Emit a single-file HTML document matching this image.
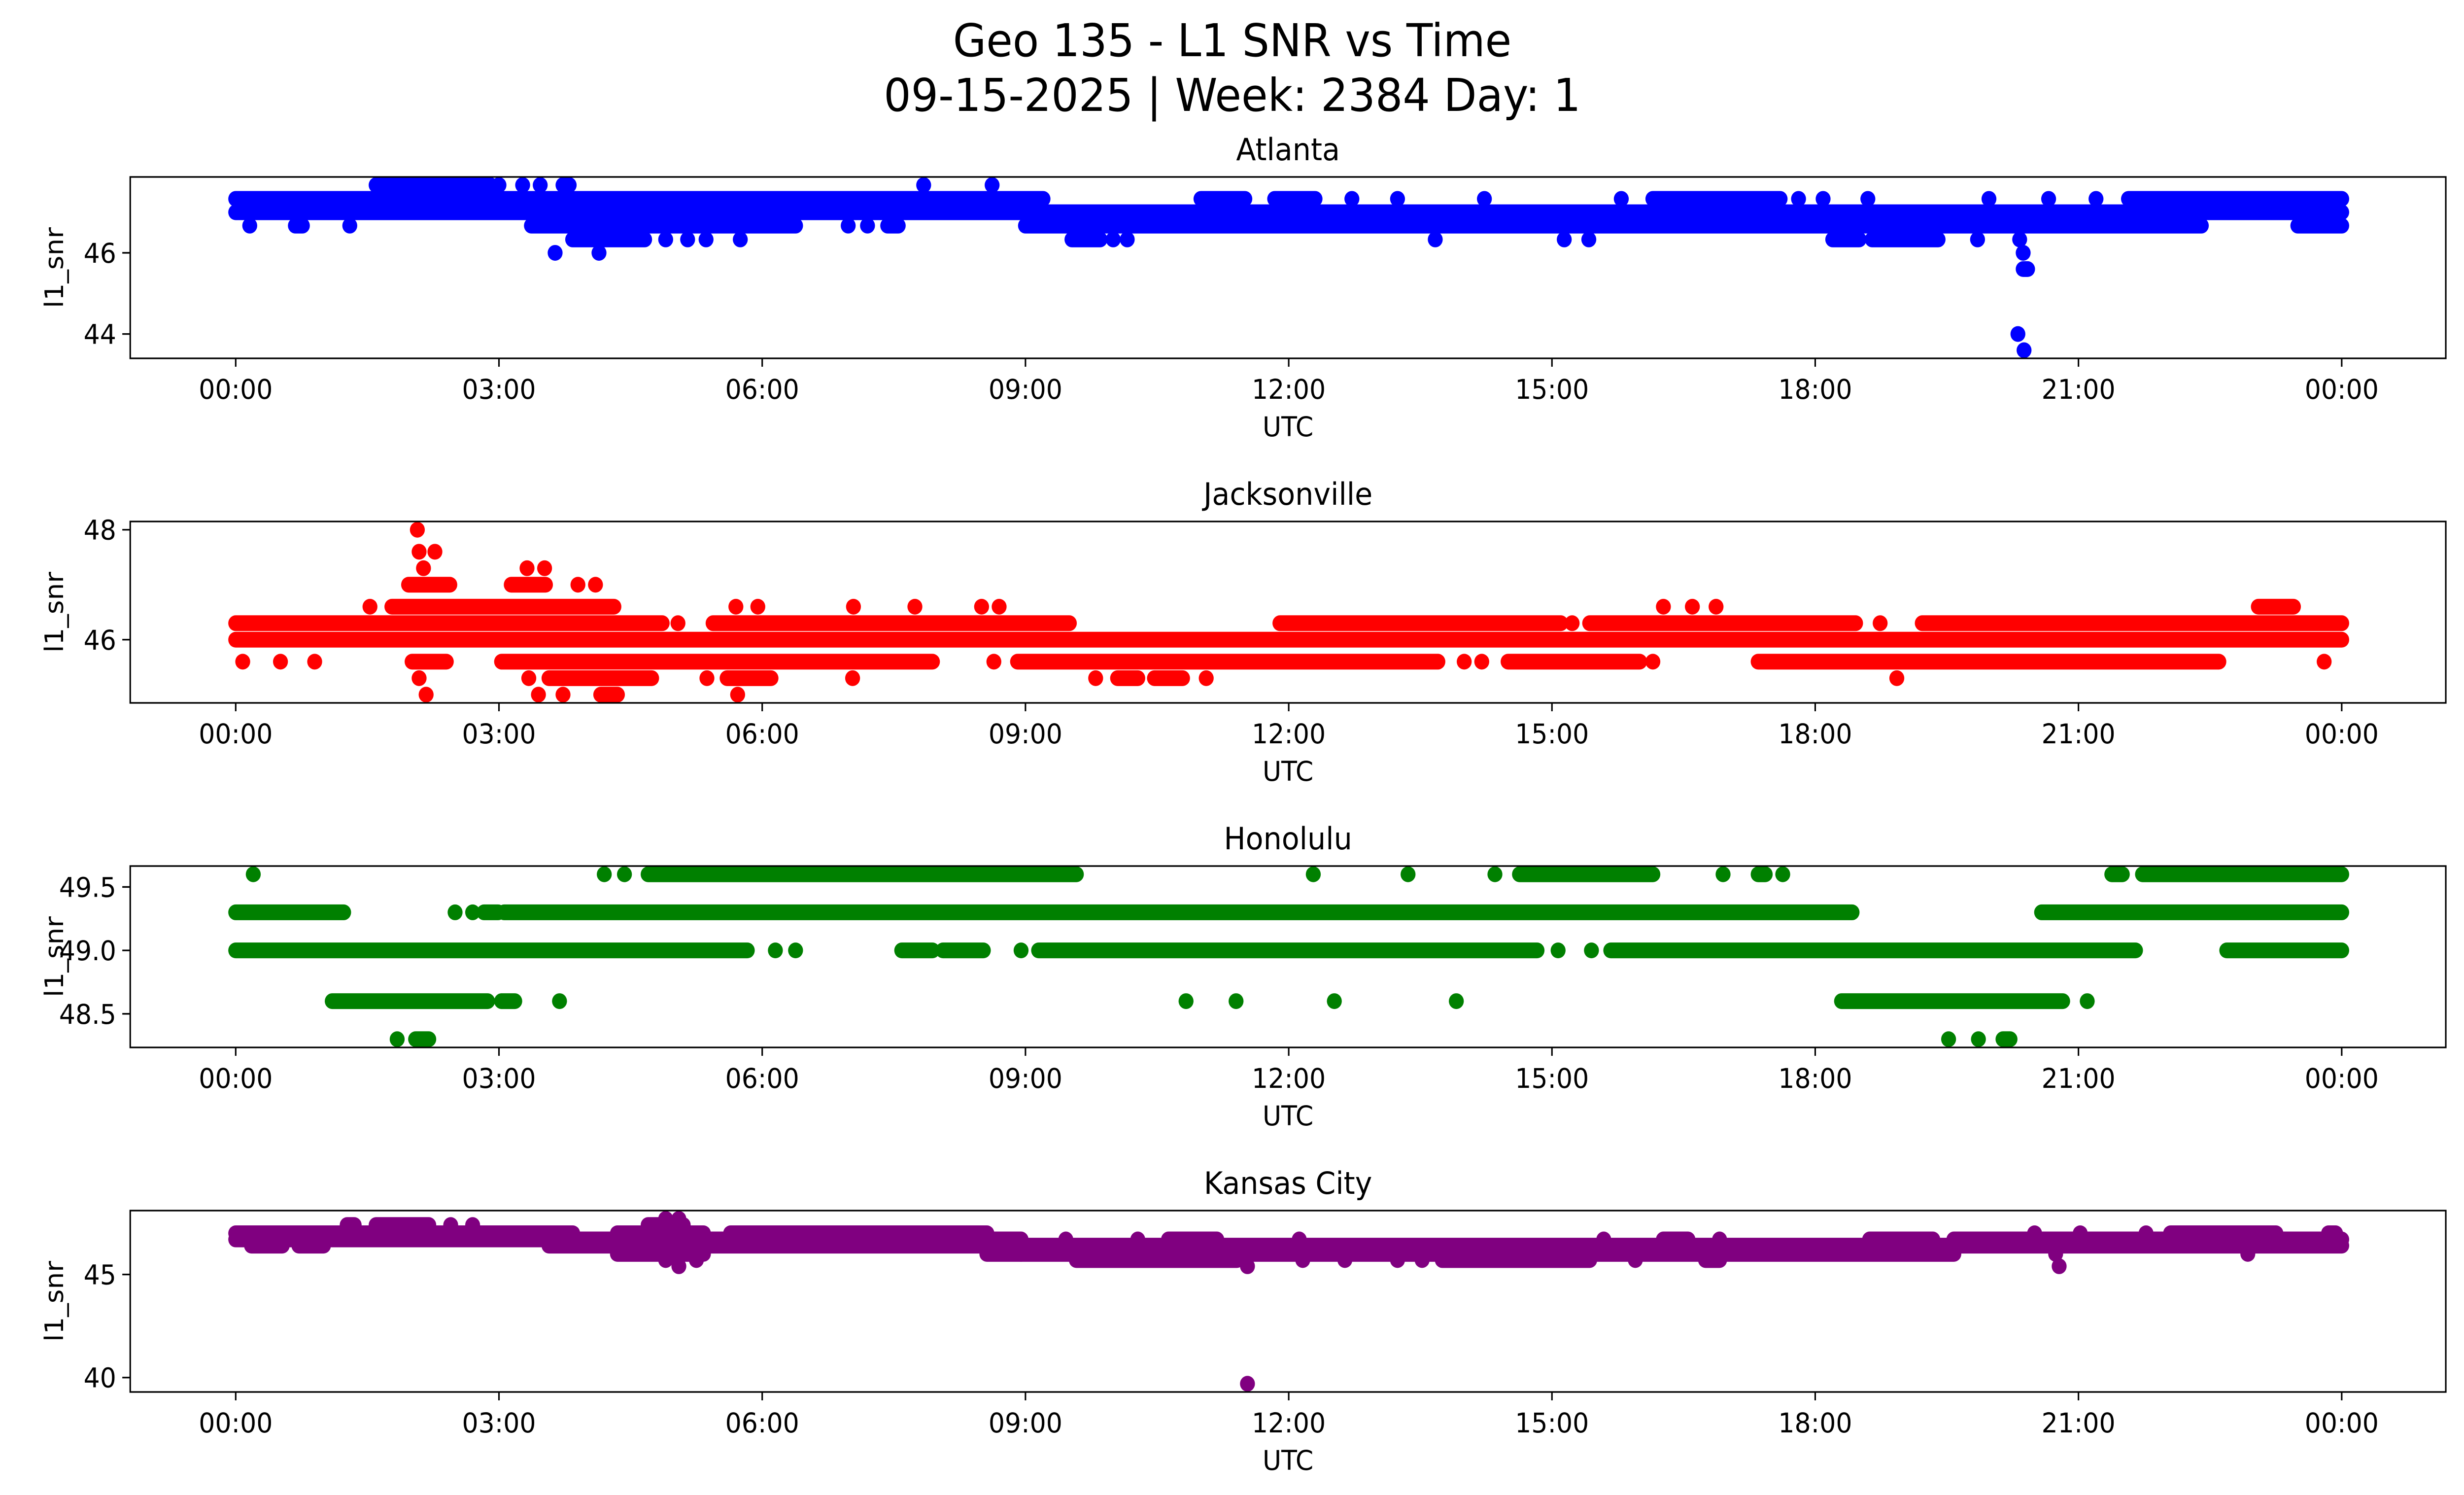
<!DOCTYPE html>
<html><head><meta charset="utf-8"><title>Geo 135 - L1 SNR vs Time</title>
<style>
html,body{margin:0;padding:0;background:#fff;overflow:hidden;width:100%;height:100%;}
svg{display:block;width:100vw;height:100vh;font-family:"DejaVu Sans","Liberation Sans",sans-serif;}
</style></head>
<body>
<svg id="fig" xmlns="http://www.w3.org/2000/svg" viewBox="0 0 5279 3033" preserveAspectRatio="none">
<rect width="5279" height="3033" fill="#fff"/>
<text x="2640" y="114" font-size="92" text-anchor="middle" fill="#000">Geo 135 - L1 SNR vs Time</text>
<text x="2640" y="225" font-size="92" text-anchor="middle" fill="#000">09-15-2025 | Week: 2384 Day: 1</text>
</svg>
<script>
// x tick data (hours) and labels
const xTickHours = [0,3,6,9,12,15,18,21,24];
const xTickLabels = ["00:00","03:00","06:00","09:00","12:00","15:00","18:00","21:00","00:00"];

// Atlanta runs: [startHour, endHour, snr]
const atlantaRuns = [
 [0,9.2,47.33],[11.84,12.3,47.33],[12.72,12.72,47.33],[13.24,13.24,47.33],[14.23,14.23,47.33],[15.79,15.79,47.33],
 [16.15,17.6,47.33],[17.81,17.81,47.33],[18.09,18.09,47.33],[18.6,18.6,47.33],[19.98,19.98,47.33],[20.66,20.66,47.33],
 [21.2,21.2,47.33],[21.57,24,47.33],[11.0,11.5,47.33],
 [0,24,47.0],
 [1.6,2.9,47.67],[3.0,3.0,47.67],[3.27,3.27,47.67],[3.47,3.47,47.67],[3.73,3.8,47.67],[7.84,7.84,47.67],[8.62,8.62,47.67],
 [0.16,0.16,46.67],[0.68,0.76,46.67],[1.3,1.3,46.67],[3.37,6.38,46.67],[6.98,6.98,46.67],[7.2,7.2,46.67],[7.43,7.55,46.67],
 [9.0,22.4,46.67],[23.5,24,46.67],
 [3.84,4.66,46.33],[4.9,4.9,46.33],[5.15,5.15,46.33],[5.36,5.36,46.33],[5.75,5.75,46.33],[9.53,9.85,46.33],[10.0,10.0,46.33],
 [10.16,10.16,46.33],[13.67,13.67,46.33],[15.14,15.14,46.33],[15.42,15.42,46.33],[18.2,18.5,46.33],[18.65,19.4,46.33],
 [19.85,19.85,46.33],[20.33,20.33,46.33],
 [3.64,3.64,46.0],[4.14,4.14,46.0],[20.37,20.37,46.0],
 [20.37,20.42,45.6],[20.31,20.31,44.0],[20.38,20.38,43.6]
];
const atlantaTicks = [44,46];

// Jacksonville runs
const jacksonvilleRuns = [
 [2.07,2.07,48.0],
 [2.09,2.09,47.6],[2.27,2.27,47.6],
 [2.14,2.14,47.3],[3.32,3.32,47.3],[3.52,3.52,47.3],
 [1.97,2.44,47.0],[3.14,3.53,47.0],[3.9,3.9,47.0],[4.1,4.1,47.0],
 [1.53,1.53,46.6],[1.78,4.31,46.6],[5.7,5.7,46.6],[5.95,5.95,46.6],[7.04,7.04,46.6],[7.74,7.74,46.6],[8.5,8.5,46.6],[8.7,8.7,46.6],
 [16.27,16.27,46.6],[16.6,16.6,46.6],[16.87,16.87,46.6],[23.05,23.45,46.6],
 [0,4.86,46.3],[5.04,5.04,46.3],[5.44,9.5,46.3],[11.9,15.1,46.3],[15.23,15.23,46.3],[15.43,18.46,46.3],[18.74,18.74,46.3],[19.22,24,46.3],
 [0,24,46.0],
 [0.08,0.08,45.6],[0.51,0.51,45.6],[0.9,0.9,45.6],[2.01,2.4,45.6],[3.03,7.94,45.6],[8.64,8.64,45.6],[8.91,13.7,45.6],
 [14.0,14.0,45.6],[14.2,14.2,45.6],[14.5,16.0,45.6],[16.15,16.15,45.6],[17.35,22.6,45.6],[23.8,23.8,45.6],
 [2.09,2.09,45.3],[3.34,3.34,45.3],[3.57,4.74,45.3],[5.37,5.37,45.3],[5.6,6.1,45.3],[7.03,7.03,45.3],[9.8,9.8,45.3],
 [10.05,10.28,45.3],[10.47,10.79,45.3],[11.06,11.06,45.3],[18.93,18.93,45.3],
 [2.17,2.17,45.0],[3.45,3.45,45.0],[3.73,3.73,45.0],[4.16,4.35,45.0],[5.72,5.72,45.0]
];
const jacksonvilleTicks = [46,48];

// Honolulu runs
const honoluluRuns = [
 [0.2,0.2,49.6],[4.2,4.2,49.6],[4.43,4.43,49.6],[4.7,9.58,49.6],[12.28,12.28,49.6],[13.36,13.36,49.6],[14.35,14.35,49.6],
 [14.63,16.15,49.6],[16.95,16.95,49.6],[17.35,17.43,49.6],[17.63,17.63,49.6],[21.38,21.5,49.6],[21.73,24,49.6],
 [0,1.23,49.3],[2.5,2.5,49.3],[2.7,2.7,49.3],[2.83,2.99,49.3],[3.06,18.42,49.3],[20.58,24,49.3],
 [0,5.83,49.0],[6.15,6.15,49.0],[6.38,6.38,49.0],[7.59,7.94,49.0],[8.06,8.52,49.0],[8.95,8.95,49.0],[9.15,14.83,49.0],
 [15.07,15.07,49.0],[15.45,15.45,49.0],[15.67,21.65,49.0],[22.69,24,49.0],
 [1.1,2.87,48.6],[3.03,3.18,48.6],[3.69,3.69,48.6],[10.83,10.83,48.6],[11.4,11.4,48.6],[12.52,12.52,48.6],[13.91,13.91,48.6],
 [18.3,20.82,48.6],[21.1,21.1,48.6],
 [1.84,1.84,48.3],[2.05,2.2,48.3],[19.52,19.52,48.3],[19.86,19.86,48.3],[20.14,20.22,48.3]
];
const honoluluTicks = [48.5,49.0,49.5];
const honoluluTickLabels = ["48.5","49.0","49.5"];

// Kansas City runs
const kansasRuns = [
 [0,3.84,47.0],[0,3.84,46.7],[0.18,0.53,46.4],[0.72,1.0,46.4],
 [1.27,1.35,47.4],[1.6,2.2,47.4],[2.45,2.45,47.4],[2.7,2.7,47.4],
 [3.57,4.35,46.7],[3.57,4.35,46.4],
 [4.35,5.33,47.0],[4.35,5.33,46.7],[4.35,5.33,46.4],[4.35,5.33,46.0],
 [4.7,5.1,47.4],[4.9,4.9,47.7],[5.05,5.05,47.7],[4.9,4.9,45.7],[5.25,5.25,45.7],[5.05,5.05,45.4],
 [5.33,8.56,46.7],[5.33,8.56,46.4],[5.64,8.56,47.0],
 [8.56,8.95,46.7],[8.56,8.95,46.4],[8.56,8.95,46.0],
 [8.95,19.58,46.4],[8.95,19.58,46.0],
 [9.58,11.41,45.7],[12.16,12.16,45.7],[12.64,12.64,45.7],[13.24,13.24,45.7],[13.52,13.52,45.7],[13.75,15.43,45.7],
 [15.95,15.95,45.7],[16.75,16.91,45.7],
 [9.46,9.46,46.7],[10.28,10.28,46.7],[10.63,11.18,46.7],[12.12,12.12,46.7],[15.59,15.59,46.7],[16.27,16.55,46.7],
 [16.91,16.91,46.7],[18.62,19.34,46.7],
 [11.53,11.53,45.4],[11.53,11.53,39.7],
 [19.58,24,46.7],[19.58,24,46.4],
 [20.5,20.5,47.0],[21.02,21.02,47.0],[21.77,21.77,47.0],[22.05,23.25,47.0],[23.85,23.93,47.0],
 [20.74,20.74,46.0],[22.93,22.93,46.0],[20.78,20.78,45.4]
];
const kansasTicks = [40,45];

const panels = [
 {key:"atlanta", title:"Atlanta", top:359, ymin:43.4, ymax:47.87, ticks:atlantaTicks, labels:atlantaTicks.map(String), color:"#0000ff", runs:atlantaRuns},
 {key:"jacksonville", title:"Jacksonville", top:1058, ymin:44.85, ymax:48.15, ticks:jacksonvilleTicks, labels:jacksonvilleTicks.map(String), color:"#ff0000", runs:jacksonvilleRuns},
 {key:"honolulu", title:"Honolulu", top:1757, ymin:48.235, ymax:49.665, ticks:honoluluTicks, labels:honoluluTickLabels, color:"#008000", runs:honoluluRuns},
 {key:"kansas-city", title:"Kansas City", top:2456, ymin:39.3, ymax:48.1, ticks:kansasTicks, labels:kansasTicks.map(String), color:"#800080", runs:kansasRuns}
];

const NS="http://www.w3.org/2000/svg";
const svg=document.getElementById("fig");
const AX_L=279, AX_R=5240, AX_H=368, X0=505, PXH=188, R=16;
function xs(h){return X0+h*PXH;}
function mk(tag,attrs,parent){const e=document.createElementNS(NS,tag);for(const k in attrs)e.setAttribute(k,attrs[k]);(parent||svg).appendChild(e);return e;}

panels.forEach(p=>{
  const ys=v=>p.top+(p.ymax-v)/(p.ymax-p.ymin)*AX_H;
  const g=mk("g",{});
  
  
  const clipId="clip-"+p.key;
  const cp=mk("clipPath",{id:clipId},g);
  mk("rect",{x:AX_L,y:p.top,width:AX_R-AX_L,height:AX_H},cp);
  const dots=mk("g",{"clip-path":"url(#"+clipId+")"},g);
  
  
  p.runs.forEach(r=>{
    let el;
    if(r[0]===r[1]){
      el=mk("circle",{cx:xs(r[0]),cy:ys(r[2]),r:R,fill:p.color},dots);
    } else {
      el=mk("line",{x1:xs(r[0]),x2:xs(r[1]),y1:ys(r[2]),y2:ys(r[2]),stroke:p.color,"stroke-width":2*R,"stroke-linecap":"round"},dots);
    }
    
    
  });
  const frame=mk("rect",{x:AX_L,y:p.top,width:AX_R-AX_L,height:AX_H,fill:"none",stroke:"#000","stroke-width":3.3},g);
  
  
  const bottom=p.top+AX_H;
  xTickHours.forEach((h,i)=>{
    const t=mk("line",{x1:xs(h),x2:xs(h),y1:bottom,y2:bottom+17,stroke:"#000","stroke-width":3.3},g);
    
    
    const lb=mk("text",{x:xs(h),y:bottom+82,"font-size":55,"text-anchor":"middle",fill:"#000"},g);
    lb.textContent=xTickLabels[i];
    
    
  });
  p.ticks.forEach((v,i)=>{
    const t=mk("line",{x1:AX_L-17,x2:AX_L,y1:ys(v),y2:ys(v),stroke:"#000","stroke-width":3.3},g);
    
    
    const lb=mk("text",{x:AX_L-30,y:ys(v)+20,"font-size":55,"text-anchor":"end",fill:"#000"},g);
    lb.textContent=p.labels[i];
    
    
  });
  const xl=mk("text",{x:(AX_L+AX_R)/2,y:bottom+158,"font-size":55,"text-anchor":"middle",fill:"#000"},g);
  xl.textContent="UTC";
  
  
  const cy=p.top+AX_H/2;
  const yl=mk("text",{x:115,y:cy,"font-size":55,"text-anchor":"middle",fill:"#000",transform:"rotate(-90 115 "+cy+") translate(0 20)"},g);
  yl.textContent="l1_snr";
  
  
  const tt=mk("text",{x:(AX_L+AX_R)/2,y:p.top-34,"font-size":62,"text-anchor":"middle",fill:"#000"},g);
  tt.textContent=p.title;
  
  
});
</script>
</body></html>
